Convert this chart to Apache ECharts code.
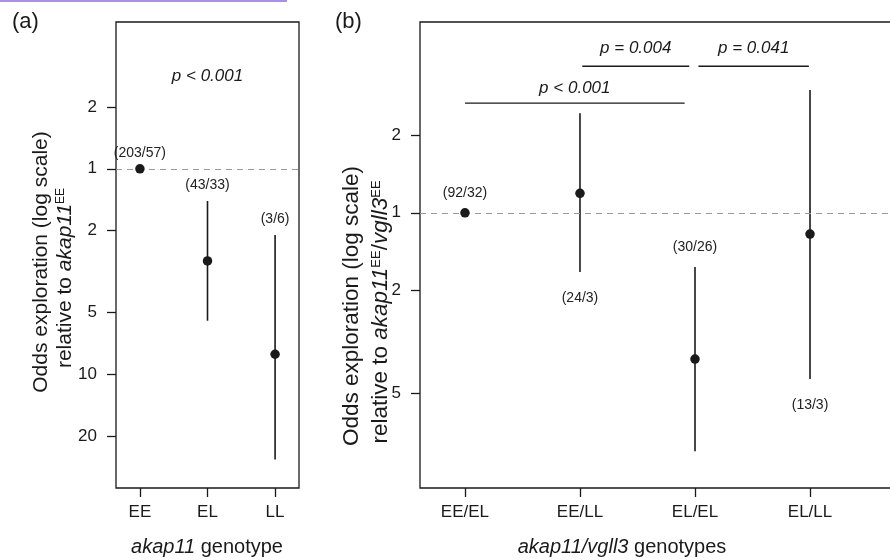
<!DOCTYPE html>
<html><head><meta charset="utf-8">
<script src="https://cdn.jsdelivr.net/npm/echarts@6/dist/echarts.min.js"></script>
<style>html,body{margin:0;padding:0;background:#fff}#c{width:890px;height:560px}</style>
</head><body><div id="c"></div>
<script>
// ---------- Panel (a): akap11 genotype ----------
const catsA = ['EE', 'EL', 'LL'];
const oddsA = [1, 0.356, 0.125];
const ciLowA = [null, 0.182, 0.0384];
const ciHighA = [null, 0.697, 0.476];
const nLabelsA = ['(203/57)', '(43/33)', '(3/6)'];
const nSideA = ['above', 'above', 'above'];
const pTextA = 'p < 0.001';
const pPosA = [2, 2.83];
const yTicksA = [2, 1, 0.5, 0.2, 0.1, 0.05];

// ---------- Panel (b): akap11/vgll3 genotypes ----------
const catsB = ['EE/EL', 'EE/LL', 'EL/EL', 'EL/LL'];
const oddsB = [1, 1.19, 0.271, 0.827];
const ciLowB = [null, 0.589, 0.119, 0.227];
const ciHighB = [null, 2.43, 0.616, 2.99];
const nLabelsB = ['(92/32)', '(24/3)', '(30/26)', '(13/3)'];
const nSideB = ['above', 'below', 'above', 'below'];
const sigTexts = ['p < 0.001', 'p = 0.004', 'p = 0.041'];
const sigFrom = [1.0, 2.02, 3.03];
const sigTo = [2.91, 2.95, 3.99];
const sigLevel = [2.66, 3.70, 3.70];
const sigTextLevel = [3.04, 4.35, 4.35];
const yTicksB = [2, 1, 0.5, 0.2];

const FONT = '"Liberation Sans", Arial, Helvetica, sans-serif';
const INK = '#1a1a1a';

function oddsFmt(v) { return v >= 1 ? String(Math.round(v)) : String(Math.round(1 / v)); }

function xAxisFor(gi, cats, min, max) {
  const vals = cats.map((c, i) => i + 1);
  return {
    gridIndex: gi, type: 'value', min: min, max: max,
    axisLine: { show: false }, splitLine: { show: false },
    axisTick: { show: true, length: 9, customValues: vals, lineStyle: { color: INK, width: 1.3 } },
    axisLabel: { customValues: vals, margin: 16, fontSize: 17, fontFamily: FONT, color: INK,
      formatter: v => cats[Math.round(v) - 1] || '' }
  };
}
function yAxisFor(gi, ticks, min, max) {
  return {
    gridIndex: gi, type: 'log', logBase: 10, min: min, max: max,
    axisLine: { show: false }, splitLine: { show: false }, minorTick: { show: false },
    axisTick: { show: true, length: 9, customValues: ticks, lineStyle: { color: INK, width: 1.3 } },
    axisLabel: { customValues: ticks, margin: 19, fontSize: 17, fontFamily: FONT, color: INK, formatter: oddsFmt }
  };
}

function ciData(odds, lo, hi) {
  const out = [];
  odds.forEach((o, i) => { if (lo[i] != null) out.push([i + 1, lo[i], hi[i]]); });
  return out;
}
function labelData(odds, lo, hi, labels, sides) {
  return labels.map((t, i) => {
    const side = sides[i];
    const ref = side === 'above' ? (hi[i] != null ? hi[i] : odds[i]) : (lo[i] != null ? lo[i] : odds[i]);
    return { value: [i + 1, ref, side === 'above' ? -1 : 1], name: t };
  });
}

function ciSeries(xi, yi, data) {
  return {
    type: 'custom', xAxisIndex: xi, yAxisIndex: yi, data: data, silent: true, z: 3,
    renderItem: (params, api) => {
      const p1 = api.coord([api.value(0), api.value(1)]);
      const p2 = api.coord([api.value(0), api.value(2)]);
      return { type: 'line', shape: { x1: p1[0], y1: p1[1], x2: p2[0], y2: p2[1] },
        style: { stroke: INK, lineWidth: 1.6 } };
    }
  };
}
function labelSeries(xi, yi, data, offAbove, offBelow) {
  return {
    type: 'custom', xAxisIndex: xi, yAxisIndex: yi, data: data, silent: true, z: 4,
    renderItem: (params, api) => {
      const p = api.coord([api.value(0), api.value(1)]);
      const dir = api.value(2);
      const off = dir < 0 ? -offAbove : offBelow;
      return { type: 'text', x: p[0], y: p[1] + off,
        style: { text: data[params.dataIndex].name, fill: '#222', font: '14px ' + FONT,
          align: 'center', verticalAlign: 'middle' } };
    }
  };
}
function pointSeries(xi, yi, odds) {
  return {
    type: 'scatter', xAxisIndex: xi, yAxisIndex: yi, symbol: 'circle', symbolSize: 9.5, z: 5,
    itemStyle: { color: INK, opacity: 1 }, silent: true,
    data: odds.map((o, i) => [i + 1, o]),
    markLine: { silent: true, symbol: 'none', label: { show: false }, animation: false,
      lineStyle: { color: '#9a9a9a', type: [6, 5], width: 1.2, opacity: 1 }, data: [{ yAxis: 1 }] }
  };
}

const sigLineData = sigTexts.map((t, i) => [sigFrom[i], sigTo[i], sigLevel[i]]);
const sigTextData = sigTexts.map((t, i) => ({ value: [(sigFrom[i] + sigTo[i]) / 2, sigTextLevel[i]], name: t }));

const option = {
  backgroundColor: '#fff',
  animation: false,
  grid: [
    { left: 116, top: 22, width: 183, height: 466, show: true, borderColor: INK, borderWidth: 1.3,
      outerBoundsMode: 'none', containLabel: false },
    { left: 420, top: 22, width: 478, height: 466, show: true, borderColor: INK, borderWidth: 1.3,
      outerBoundsMode: 'none', containLabel: false }
  ],
  xAxis: [ xAxisFor(0, catsA, 0.646, 3.354), xAxisFor(1, catsB, 0.609, 4.765) ],
  yAxis: [ yAxisFor(0, yTicksA, 0.0279, 5.185), yAxisFor(1, yTicksB, 0.0857, 5.49) ],
  series: [
    ciSeries(0, 0, ciData(oddsA, ciLowA, ciHighA)),
    pointSeries(0, 0, oddsA),
    labelSeries(0, 0, labelData(oddsA, ciLowA, ciHighA, nLabelsA, nSideA), 16, 26),
    {
      type: 'custom', xAxisIndex: 0, yAxisIndex: 0, silent: true, data: [{ value: pPosA, name: pTextA }],
      renderItem: (params, api) => {
        const p = api.coord([api.value(0), api.value(1)]);
        return { type: 'text', x: p[0], y: p[1], style: { text: pTextA, fill: INK,
          font: 'italic 17px ' + FONT, align: 'center', verticalAlign: 'middle' } };
      }
    },
    ciSeries(1, 1, ciData(oddsB, ciLowB, ciHighB)),
    pointSeries(1, 1, oddsB),
    labelSeries(1, 1, labelData(oddsB, ciLowB, ciHighB, nLabelsB, nSideB), 20, 26),
    {
      type: 'custom', xAxisIndex: 1, yAxisIndex: 1, silent: true, data: sigLineData,
      renderItem: (params, api) => {
        const p1 = api.coord([api.value(0), api.value(2)]);
        const p2 = api.coord([api.value(1), api.value(2)]);
        return { type: 'line', shape: { x1: p1[0], y1: p1[1], x2: p2[0], y2: p2[1] },
          style: { stroke: INK, lineWidth: 1.4 } };
      }
    },
    {
      type: 'custom', xAxisIndex: 1, yAxisIndex: 1, silent: true, data: sigTextData,
      renderItem: (params, api) => {
        const p = api.coord([api.value(0), api.value(1)]);
        return { type: 'text', x: p[0], y: p[1], style: { text: sigTextData[params.dataIndex].name, fill: INK,
          font: 'italic 17px ' + FONT, align: 'center', verticalAlign: 'middle' } };
      }
    }
  ],
  graphic: [
    { type: 'rect', shape: { x: 0, y: 0, width: 287, height: 2 }, style: { fill: '#a990e3' }, silent: true },
    { type: 'text', x: 12, y: 22, style: { text: '(a)', font: '22px ' + FONT, fill: INK, align: 'left', verticalAlign: 'middle' } },
    { type: 'text', x: 335, y: 22, style: { text: '(b)', font: '22px ' + FONT, fill: INK, align: 'left', verticalAlign: 'middle' } },
    { type: 'text', x: 41, y: 262, rotation: Math.PI / 2,
      style: { text: 'Odds exploration (log scale)', font: '21px ' + FONT, fill: INK, align: 'center', verticalAlign: 'middle' } },
    { type: 'text', x: 65, y: 278, rotation: Math.PI / 2,
      style: { text: 'relative to {i|akap11}{s|EE}', font: '21px ' + FONT, fill: INK, align: 'center', verticalAlign: 'middle',
        rich: { i: { fontStyle: 'italic', fontSize: 21, fontFamily: FONT, fill: INK },
                s: { fontSize: 12, fontFamily: FONT, fill: INK, verticalAlign: 'top', lineHeight: 14 } } } },
    { type: 'text', x: 352, y: 306, rotation: Math.PI / 2,
      style: { text: 'Odds exploration (log scale)', font: '22.5px ' + FONT, fill: INK, align: 'center', verticalAlign: 'middle' } },
    { type: 'text', x: 381, y: 312, rotation: Math.PI / 2,
      style: { text: 'relative to {i|akap11}{s|EE}/{i|vgll3}{s|EE}', font: '22.5px ' + FONT, fill: INK, align: 'center', verticalAlign: 'middle',
        rich: { i: { fontStyle: 'italic', fontSize: 22.5, fontFamily: FONT, fill: INK },
                s: { fontSize: 13, fontFamily: FONT, fill: INK, verticalAlign: 'top', lineHeight: 15 } } } },
    { type: 'text', x: 207, y: 547,
      style: { text: '{i|akap11} genotype', font: '20px ' + FONT, fill: INK, align: 'center', verticalAlign: 'middle',
        rich: { i: { fontStyle: 'italic', fontSize: 20, fontFamily: FONT, fill: INK } } } },
    { type: 'text', x: 622, y: 547,
      style: { text: '{i|akap11/vgll3} genotypes', font: '20px ' + FONT, fill: INK, align: 'center', verticalAlign: 'middle',
        rich: { i: { fontStyle: 'italic', fontSize: 20, fontFamily: FONT, fill: INK } } } }
  ]
};

const chart = echarts.init(document.getElementById('c'), null, { renderer: 'canvas' });
chart.setOption(option);
</script>
</body></html>
